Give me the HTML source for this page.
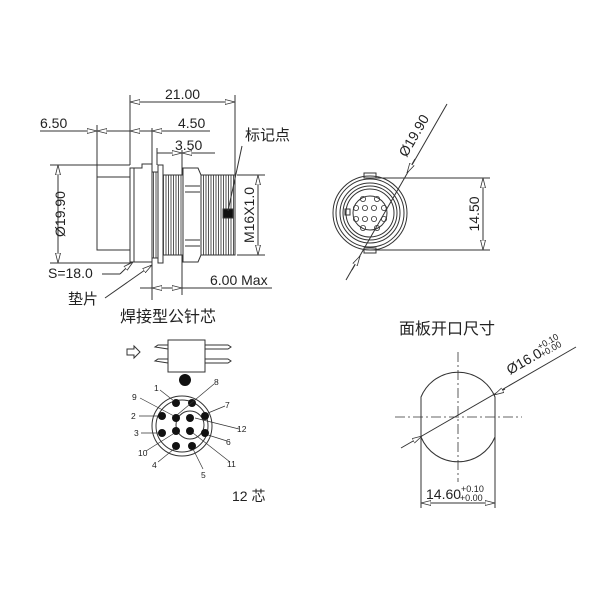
<!DOCTYPE html>
<html><head><style>body{margin:0;background:#fff}svg{display:block}text{font-family:"Liberation Sans","Noto Sans CJK SC",sans-serif;fill:#222}</style></head><body>
<svg width="600" height="600" viewBox="0 0 600 600" xmlns="http://www.w3.org/2000/svg">
<defs>
<marker id="a" viewBox="0 0 10 6" refX="10" refY="3" markerWidth="10" markerHeight="6" orient="auto-start-reverse" markerUnits="userSpaceOnUse"><path d="M0,0.5 L10,3 L0,5.5 Z" fill="#fff" stroke="#333" stroke-width="0.8"/></marker>
<pattern id="th" width="2.5" height="10" patternUnits="userSpaceOnUse"><rect width="2.5" height="10" fill="#fff"/><line x1="1" y1="0" x2="1" y2="10" stroke="#555" stroke-width="1"/></pattern>
</defs>
<g stroke="#333" stroke-width="1" fill="none">
<line x1="130" y1="95" x2="130" y2="165"/><line x1="235" y1="95" x2="235" y2="177"/>
<line x1="97" y1="125" x2="97" y2="177"/><line x1="152" y1="128" x2="152" y2="300"/>
<line x1="157" y1="148" x2="157" y2="165"/><line x1="182" y1="150" x2="182" y2="295"/>
<line x1="50" y1="165" x2="130" y2="165"/><line x1="50" y1="263" x2="132" y2="263"/>
<line x1="237" y1="175" x2="265" y2="175"/><line x1="237" y1="255" x2="265" y2="255"/>
<line x1="130" y1="102" x2="235" y2="102" marker-start="url(#a)" marker-end="url(#a)"/>
<line x1="40" y1="131" x2="210" y2="131"/>
<line x1="75" y1="131" x2="97" y2="131" marker-end="url(#a)"/>
<line x1="120" y1="131" x2="97" y2="131" marker-end="url(#a)"/>
<line x1="152" y1="131" x2="130" y2="131" marker-end="url(#a)"/>
<line x1="160" y1="131" x2="152" y2="131" marker-end="url(#a)"/>
<line x1="157" y1="153" x2="215" y2="153"/>
<line x1="165" y1="153" x2="182" y2="153" marker-end="url(#a)"/>
<line x1="200" y1="153" x2="182" y2="153" marker-end="url(#a)"/>
<line x1="58" y1="165" x2="58" y2="263" marker-start="url(#a)" marker-end="url(#a)"/>
<line x1="258" y1="175" x2="258" y2="255" marker-start="url(#a)" marker-end="url(#a)"/>
<line x1="140" y1="288" x2="272" y2="288"/>
<line x1="165" y1="288" x2="152" y2="288" marker-end="url(#a)"/>
<line x1="167" y1="288" x2="182" y2="288" marker-end="url(#a)"/>
<rect x="97" y="177" width="33" height="73" fill="#fff"/>
<path d="M130,168 L142,168 L142,164 L152,164 L152,262 L130,262 Z" fill="#fff"/>
<line x1="134" y1="168" x2="134" y2="262"/>
<rect x="163" y="175" width="72" height="80" fill="url(#th)"/>
<rect x="163" y="175" width="72" height="80"/>
<rect x="152" y="172" width="6" height="86" fill="url(#th)"/>
<rect x="158" y="165" width="5" height="98" fill="#fff"/>
<path d="M183,168 L198,168 L201,175 L201,255 L198,262 L183,262 Z" fill="#fff"/>
<line x1="185" y1="186" x2="200" y2="186"/><line x1="185" y1="192" x2="200" y2="192"/>
<line x1="185" y1="240" x2="200" y2="240"/><line x1="185" y1="246" x2="200" y2="246"/>
<rect x="223" y="209" width="10" height="9" fill="#111"/>
<line x1="242" y1="146" x2="228" y2="211"/>
<line x1="102" y1="274" x2="120" y2="274"/><path d="M120,274 Q126,268 133,262" marker-end="url(#a)"/>
<path d="M105,298 L152,265" marker-end="url(#a)"/>
<circle cx="370" cy="213" r="37"/><circle cx="370" cy="213" r="34"/>
<circle cx="370" cy="213" r="30"/><circle cx="370" cy="213" r="27"/><circle cx="370" cy="213" r="24"/>
<circle cx="370" cy="213" r="17"/>
<rect x="364" y="173" width="12" height="5"/><rect x="364" y="248" width="12" height="5"/>
<rect x="345" y="209" width="5" height="6"/>
<g stroke-width="0.8">
<circle cx="363" cy="199" r="2.6"/><circle cx="377" cy="199" r="2.6"/>
<circle cx="356" cy="208" r="2.6"/><circle cx="365" cy="208" r="2.6"/><circle cx="374" cy="208" r="2.6"/><circle cx="384" cy="208" r="2.6"/>
<circle cx="356" cy="219" r="2.6"/><circle cx="365" cy="219" r="2.6"/><circle cx="374" cy="219" r="2.6"/><circle cx="384" cy="219" r="2.6"/>
<circle cx="363" cy="228" r="2.6"/><circle cx="377" cy="228" r="2.6"/>
</g>
<line x1="346" y1="280" x2="447" y2="104"/>
<line x1="360" y1="256" x2="352" y2="270" marker-start="url(#a)"/>
<line x1="407" y1="173" x2="415" y2="159" marker-start="url(#a)"/>
<line x1="370" y1="178" x2="490" y2="178"/><line x1="370" y1="250" x2="490" y2="250"/>
<line x1="483" y1="178" x2="483" y2="250" marker-start="url(#a)" marker-end="url(#a)"/>
<path d="M127,349 L134,349 L134,346 L140,352 L134,358 L134,355 L127,355 Z"/>
<rect x="168" y="340" width="37" height="32"/>
<path d="M168,345 L158,345 L155,347 L168,349"/><path d="M168,359 L158,359 L155,361 L168,363"/>
<path d="M205,345 L228,345 L231,347 L228,349 L205,349"/><path d="M205,359 L228,359 L231,361 L228,363 L205,363"/>
<circle cx="185" cy="380" r="6" fill="#111" stroke="none"/>
<circle cx="182" cy="426" r="30"/><circle cx="182" cy="426" r="26"/>
<circle cx="190" cy="425" r="14"/>
<g fill="#111" stroke="none">
<circle cx="176" cy="403" r="4"/><circle cx="192" cy="403" r="4"/>
<circle cx="162" cy="416" r="4"/><circle cx="176" cy="418" r="4"/><circle cx="190" cy="418" r="4"/><circle cx="205" cy="416" r="4"/>
<circle cx="162" cy="433" r="4"/><circle cx="176" cy="431" r="4"/><circle cx="190" cy="431" r="4"/><circle cx="205" cy="433" r="4"/>
<circle cx="176" cy="446" r="4"/><circle cx="192" cy="446" r="4"/>
</g>
<g stroke-width="0.7">
<line x1="160" y1="390" x2="174" y2="401"/><line x1="214" y1="384" x2="177" y2="415"/>
<line x1="140" y1="398" x2="174" y2="416"/><line x1="225" y1="406" x2="208" y2="413"/>
<line x1="139" y1="416" x2="158" y2="416"/><line x1="239" y1="429" x2="195" y2="418"/>
<line x1="141" y1="433" x2="158" y2="433"/><line x1="227" y1="441" x2="208" y2="435"/>
<line x1="146" y1="451" x2="173" y2="434"/><line x1="158" y1="462" x2="174" y2="449"/>
<line x1="230" y1="462" x2="193" y2="433"/><line x1="203" y1="469" x2="193" y2="449"/>
</g>
<path d="M421,397 A40,40 0 0 1 495,397 L495,437 A40,40 0 0 1 421,437 Z"/>
<g stroke-dasharray="10,3,2,3" stroke-width="0.8"><line x1="395" y1="417" x2="522" y2="417"/><line x1="458" y1="352" x2="458" y2="482"/></g>
<line x1="401" y1="448" x2="576" y2="347"/>
<line x1="413" y1="441" x2="422" y2="436" marker-end="url(#a)"/>
<line x1="505" y1="389" x2="494" y2="395" marker-end="url(#a)"/>
<line x1="421" y1="437" x2="421" y2="508"/><line x1="495" y1="437" x2="495" y2="508"/>
<line x1="421" y1="503" x2="495" y2="503" marker-start="url(#a)" marker-end="url(#a)"/>
</g>
<g font-size="14">
<text x="165" y="99">21.00</text>
<text x="40" y="128">6.50</text>
<text x="178" y="128">4.50</text>
<text x="175" y="150">3.50</text>
<text x="245" y="140" font-size="15">标记点</text>
<text transform="translate(65,214) rotate(-90)" text-anchor="middle">Ø19.90</text>
<text transform="translate(254,215) rotate(-90)" text-anchor="middle">M16X1.0</text>
<text x="48" y="278">S=18.0</text>
<text x="210" y="285">6.00 Max</text>
<text x="68" y="304" font-size="15">垫片</text>
<text x="120" y="322" font-size="16">焊接型公针芯</text>
<text transform="translate(418,138) rotate(-60)" text-anchor="middle">Ø19.90</text>
<text transform="translate(479,214) rotate(-90)" text-anchor="middle">14.50</text>
<text x="399" y="334" font-size="16">面板开口尺寸</text>
<text transform="translate(510,375) rotate(-30)">Ø16.0<tspan font-size="9" dy="-7">+0.10</tspan><tspan font-size="9" dx="-24" dy="8">+0.00</tspan></text>
<text x="426" y="499">14.60<tspan font-size="9" dy="-7">+0.10</tspan><tspan font-size="9" dx="-24" dy="9">+0.00</tspan></text>
<text x="232" y="501">12 芯</text>
</g>
<g font-size="8.5">
<text x="154" y="391">1</text><text x="214" y="385">8</text>
<text x="132" y="400">9</text><text x="225" y="408">7</text>
<text x="131" y="419">2</text><text x="237" y="432">12</text>
<text x="134" y="436">3</text><text x="226" y="445">6</text>
<text x="138" y="456">10</text><text x="152" y="468">4</text>
<text x="227" y="467">11</text><text x="201" y="478">5</text>
</g>
</svg>
</body></html>
